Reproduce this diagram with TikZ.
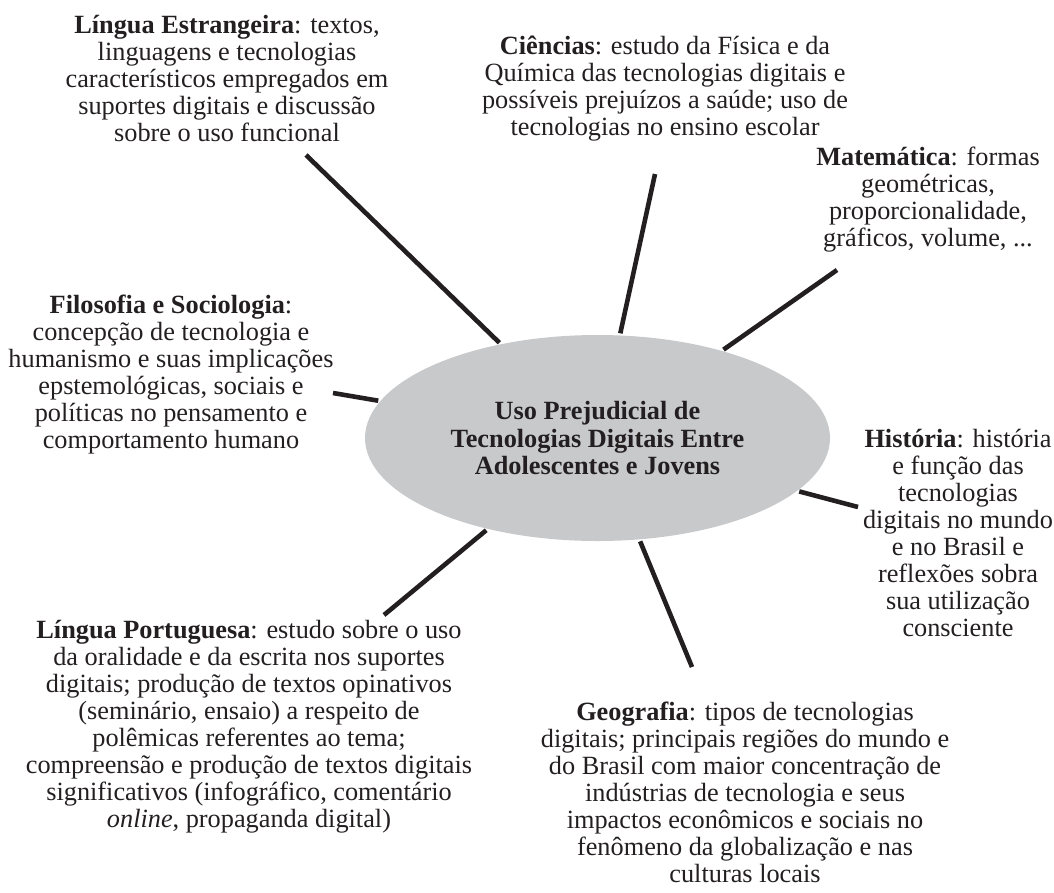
\documentclass[tikz,border=0pt]{standalone}
\usepackage{fontspec}
\setmainfont{Liberation Serif}
\usetikzlibrary{shapes.geometric}
\definecolor{ink}{HTML}{231F20}
\definecolor{blob}{HTML}{C8C9CB}

\begin{document}
\begin{tikzpicture}[x=1pt, y=-1pt,
  every node/.style={text=ink, font=\fontsize{26.3}{27}\selectfont},
  area/.style={align=center, anchor=north, inner sep=0pt},
  spoke/.style={draw=ink, line width=4.6pt, shorten <=2pt}]
  \useasboundingbox (0, 0) rectangle (1054, 892);

  \node[ellipse, fill=blob, minimum width=465, minimum height=206, inner sep=0pt, align=center,
        font=\fontsize{26.3}{27.5}\selectfont\bfseries] (topic) at (597.5, 438)
        {Uso Prejudicial de\\ Tecnologias Digitais Entre\\ Adolescentes e Jovens};

  \node[area] (lingest) at (227, 15) {\textbf{Língua Estrangeira}: textos,\\ linguagens e tecnologias\\ característicos empregados em\\ suportes digitais e discussão\\ sobre o uso funcional};
  \node[area] (ciencias) at (665, 36) {\textbf{Ciências}: estudo da Física e da\\ Química das tecnologias digitais e\\ possíveis prejuízos a saúde; uso de\\ tecnologias no ensino escolar};
  \node[area] (matematica) at (928, 147) {\textbf{Matemática}: formas\\ geométricas,\\ proporcionalidade,\\ gráficos, volume, ...};
  \node[area] (filosofia) at (171, 295) {\textbf{Filosofia e Sociologia}:\\ concepção de tecnologia e\\ humanismo e suas implicações\\ epstemológicas, sociais e\\ políticas no pensamento e\\ comportamento humano};
  \node[area] (historia) at (958, 429) {\textbf{História}: história\\ e função das\\ tecnologias\\ digitais no mundo\\ e no Brasil e\\ reflexões sobra\\ sua utilização\\ consciente};
  \node[area] (lingport) at (249, 620) {\textbf{Língua Portuguesa}: estudo sobre o uso\\ da oralidade e da escrita nos suportes\\ digitais; produção de textos opinativos\\ (seminário, ensaio) a respeito de\\ polêmicas referentes ao tema;\\ compreensão e produção de textos digitais\\ significativos (infográfico, comentário\\ \textit{online}, propaganda digital)};
  \node[area] (geografia) at (745, 702) {\textbf{Geografia}: tipos de tecnologias\\ digitais; principais regiões do mundo e\\ do Brasil com maior concentração de\\ indústrias de tecnologia e seus\\ impactos econômicos e sociais no\\ fenômeno da globalização e nas\\ culturas locais};

  \coordinate (lingest-tip) at (306, 155);
  \coordinate (ciencias-tip) at (655, 174);
  \coordinate (matematica-tip) at (837, 270);
  \coordinate (filosofia-tip) at (333, 393);
  \coordinate (historia-tip) at (858, 507);
  \coordinate (geografia-tip) at (692, 667);
  \coordinate (lingport-tip) at (384, 615);

  \path[spoke] (topic) edge (lingest-tip);
  \path[spoke] (topic) edge (ciencias-tip);
  \path[spoke] (topic) edge (matematica-tip);
  \path[spoke] (topic) edge (filosofia-tip);
  \path[spoke] (topic) edge (historia-tip);
  \path[spoke] (topic) edge (geografia-tip);
  \path[spoke] (topic) edge (lingport-tip);
\end{tikzpicture}
\end{document}
